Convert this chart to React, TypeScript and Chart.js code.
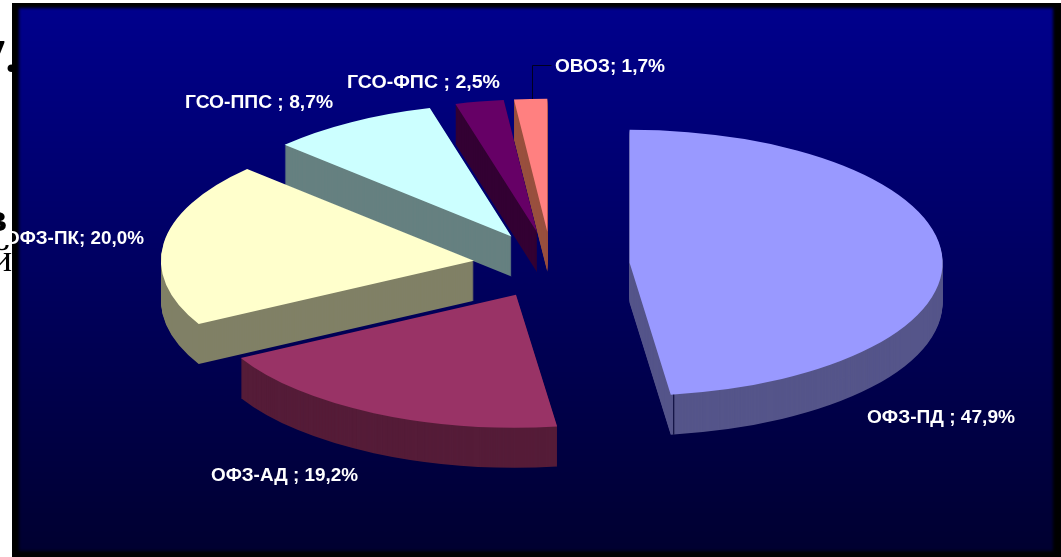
import React, { useEffect, useRef } from "react";
import { Chart, registerables } from "chart.js";

Chart.register(...registerables);

// ---- data ----
const categories = ["ОФЗ-ПД ", "ОФЗ-АД ", "ОФЗ-ПК", "ГСО-ППС ", "ГСО-ФПС ", "ОВОЗ"];
const shares = [47.9, 19.2, 20.0, 8.7, 2.5, 1.7];
const topColors = ["#9999FF", "#993366", "#FFFFCC", "#CCFFFF", "#660066", "#FF8080"];
const wallColors = ["#55558A", "#551C38", "#808066", "#668080", "#330033", "#99503F"];
const strayTexts = ["7.", "в", "й"];

// ---- layout ----
const W = 1061;
const H = 557;
const PIE_CX = 551.5;
const PIE_CY = 265;
const RX = 313;
const RY = 133;
const DEPTH = 40;
const EXPLODE = 0.25;
const LABEL_POS: [number, number][] = [
  [867, 418],
  [211, 476],
  [5, 239],
  [185, 103],
  [347, 83],
  [555, 67],
];
const LABEL_RIGHT = [1015, 358, 144, 333, 500, 665];
const DRAW_ORDER = [5, 4, 3, 0, 2, 1];

const formatLabel = (i: number) =>
  `${categories[i]}; ${shares[i].toFixed(1).replace(".", ",")}%`;

const pie3d = {
  id: "pie3d",
  beforeDraw(chart: any) {
    const ctx = chart.ctx;
    ctx.save();
    ctx.fillStyle = "#ffffff";
    ctx.fillRect(0, 0, W, H);
    ctx.fillStyle = "#000000";
    ctx.textBaseline = "alphabetic";
    ctx.textAlign = "right";
    ctx.font = "bold 46px 'Liberation Serif'";
    ctx.fillText(strayTexts[0], 17, 72);
    ctx.font = "bold 40px 'Liberation Serif'";
    ctx.fillText(strayTexts[1], 7, 231);
    ctx.font = "38px 'Liberation Serif'";
    ctx.fillText(strayTexts[2], 12, 271);
    ctx.fillStyle = "#000000";
    ctx.fillRect(12, 3, W - 12, H - 3);
    ctx.filter = "blur(1.5px)";
    const g = ctx.createLinearGradient(0, 8, 0, 551);
    g.addColorStop(0, "#00008C");
    g.addColorStop(1, "#000030");
    ctx.fillStyle = g;
    ctx.fillRect(19, 8, 1034, 543);
    ctx.restore();
  },
  beforeDatasetDraw(chart: any) {
    const ctx = chart.ctx;
    const arcs = chart.getDatasetMeta(0).data;
    const place = (arc: any, dy: number) => {
      const r = arc.outerRadius;
      const mid = (arc.startAngle + arc.endAngle) / 2;
      ctx.translate(PIE_CX, PIE_CY + dy);
      ctx.scale(RX / r, RY / r);
      ctx.translate(-arc.x, -arc.y);
      ctx.translate(Math.cos(mid) * r * EXPLODE, Math.sin(mid) * r * EXPLODE);
    };
    for (const i of DRAW_ORDER) {
      const arc = arcs[i];
      const own = arc.options;
      arc.options = Object.assign(Object.create(own), { backgroundColor: wallColors[i] });
      for (let d = DEPTH; d >= 1; d--) {
        ctx.save();
        place(arc, d);
        arc.draw(ctx);
        ctx.restore();
      }
      arc.options = own;
      ctx.save();
      place(arc, 0);
      arc.draw(ctx);
      ctx.restore();
    }

    // seam on the front cut of the largest slice and the leader of the smallest
    const project = (arc: any, angle: number, f: number) => {
      const r = arc.outerRadius;
      const mid = (arc.startAngle + arc.endAngle) / 2;
      return {
        x: PIE_CX + (RX / r) * (Math.cos(mid) * r * EXPLODE + Math.cos(angle) * r * f),
        y: PIE_CY + (RY / r) * (Math.sin(mid) * r * EXPLODE + Math.sin(angle) * r * f),
      };
    };
    ctx.save();
    ctx.strokeStyle = "#000033";
    ctx.lineWidth = 1;
    const seam = project(arcs[0], arcs[0].endAngle, 1);
    ctx.beginPath();
    ctx.moveTo(seam.x + 3, seam.y);
    ctx.lineTo(seam.x + 3, seam.y + DEPTH);
    ctx.stroke();
    const last = arcs[arcs.length - 1];
    const tip = project(last, (last.startAngle + last.endAngle) / 2, 1);
    const lx = Math.round(tip.x) + 1.5;
    const ly = Math.round(tip.y) - 33.5;
    ctx.strokeStyle = "#000020";
    ctx.beginPath();
    ctx.moveTo(lx, tip.y);
    ctx.lineTo(lx, ly);
    ctx.lineTo(lx + 19, ly);
    ctx.stroke();
    ctx.restore();
    return false;
  },
  afterDatasetsDraw(chart: any) {
    const ctx = chart.ctx;
    ctx.save();
    ctx.fillStyle = "#ffffff";
    ctx.textAlign = "left";
    ctx.textBaseline = "middle";
    ctx.font = "bold 18px 'Liberation Sans'";
    ctx.filter = "blur(0.4px)";
    categories.forEach((_, i) => {
      const text = formatLabel(i);
      const [x, y] = LABEL_POS[i];
      const w = ctx.measureText(text).width;
      ctx.save();
      ctx.translate(x, y);
      ctx.scale((LABEL_RIGHT[i] - x) / w, 1);
      ctx.fillText(text, 0, 0);
      ctx.restore();
    });
    ctx.restore();
  },
};

export default function App() {
  const ref = useRef<HTMLCanvasElement>(null);
  useEffect(() => {
    const chart = new Chart(ref.current!, {
      type: "pie",
      data: {
        labels: categories,
        datasets: [{ data: shares, backgroundColor: topColors, borderWidth: 0 }],
      },
      options: {
        animation: false,
        responsive: false,
        events: [],
        layout: { padding: 0 },
        plugins: { legend: { display: false }, tooltip: { enabled: false } },
      },
      plugins: [pie3d],
    } as any);
    return () => chart.destroy();
  }, []);
  return (
    <canvas
      ref={ref}
      width={W}
      height={H}
      style={{ position: "absolute", left: 0, top: 0, display: "block" }}
    />
  );
}
